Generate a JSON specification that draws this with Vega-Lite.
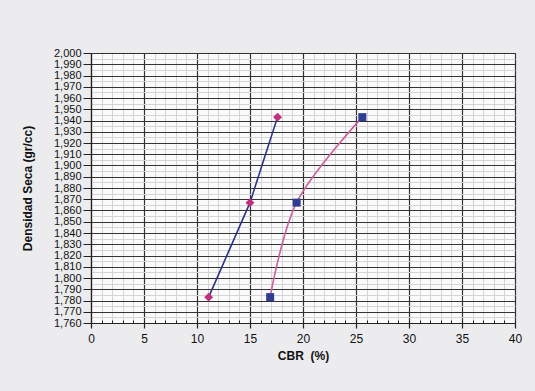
{
  "$schema": "https://vega.github.io/schema/vega-lite/v6.json",
  "autosize": {"type": "none"},
  "width": 424,
  "height": 270,
  "padding": {"left": 91, "top": 53, "right": 20, "bottom": 68},
  "background": "#ececef",
  "config": {
    "font": "Liberation Sans",
    "view": {"fill": "#fafafa", "stroke": "#222222", "strokeWidth": 1}
  },
  "data": {
    "values": [
      {"serie": "A", "cbr": 11.1, "densidad": 1783},
      {"serie": "A", "cbr": 15.0, "densidad": 1867},
      {"serie": "A", "cbr": 17.6, "densidad": 1943},
      {"serie": "B", "cbr": 16.9, "densidad": 1783},
      {"serie": "B", "cbr": 19.4, "densidad": 1867},
      {"serie": "B", "cbr": 25.6, "densidad": 1943}
    ]
  },
  "resolve": {"axis": {"x": "independent", "y": "independent"}},
  "layer": [
    {
      "description": "minor grid and minor ticks",
      "mark": {"type": "point", "opacity": 0},
      "encoding": {
        "x": {
          "field": "cbr", "type": "quantitative",
          "scale": {"domain": [0, 40], "nice": false, "zero": false},
          "axis": {
            "orient": "bottom", "title": null, "labels": false, "domain": false,
            "values": [0,1,2,3,4,5,6,7,8,9,10,11,12,13,14,15,16,17,18,19,20,21,22,23,24,25,26,27,28,29,30,31,32,33,34,35,36,37,38,39,40],
            "grid": true, "gridColor": "#d4d4d4", "gridWidth": 1,
            "ticks": true, "tickSize": -3, "tickColor": "#222222", "tickWidth": 1
          }
        },
        "y": {
          "field": "densidad", "type": "quantitative",
          "scale": {"domain": [1760, 2000], "nice": false, "zero": false},
          "axis": {
            "orient": "left", "title": null, "labels": false, "domain": false, "ticks": false,
            "values": [1765,1775,1785,1795,1805,1815,1825,1835,1845,1855,1865,1875,1885,1895,1905,1915,1925,1935,1945,1955,1965,1975,1985,1995],
            "grid": true, "gridColor": "#d4d4d4", "gridWidth": 1
          }
        }
      }
    },
    {
      "encoding": {
        "x": {
          "field": "cbr", "type": "quantitative",
          "scale": {"domain": [0, 40], "nice": false, "zero": false},
          "axis": {
            "orient": "bottom", "title": "CBR \u00a0(%)",
            "values": [0,5,10,15,20,25,30,35,40],
            "grid": true, "gridColor": "#333333", "gridWidth": 1.2,
            "domainColor": "#222222", "domainWidth": 1.2,
            "tickColor": "#222222", "tickSize": 5, "tickWidth": 1.2,
            "labelFontSize": 12, "labelColor": "#111111", "labelPadding": 5,
            "labelFlush": false,
            "titleFontSize": 12, "titleFontWeight": "bold", "titleColor": "#111111", "titlePadding": 6
          }
        },
        "y": {
          "field": "densidad", "type": "quantitative",
          "scale": {"domain": [1760, 2000], "nice": false, "zero": false},
          "axis": {
            "orient": "left", "title": "Densidad Seca (gr/cc)", "format": ",d",
            "values": [1760,1770,1780,1790,1800,1810,1820,1830,1840,1850,1860,1870,1880,1890,1900,1910,1920,1930,1940,1950,1960,1970,1980,1990,2000],
            "grid": true, "gridColor": "#333333", "gridWidth": 1.2,
            "domainColor": "#222222", "domainWidth": 1.2,
            "tickColor": "#222222", "tickSize": 8, "tickWidth": 1,
            "labelFontSize": 11, "labelColor": "#111111", "labelPadding": 2,
            "labelOverlap": false, "labelFlush": false, "labelBound": false,
            "titleFontSize": 12, "titleFontWeight": "bold", "titleColor": "#111111", "titlePadding": 19
          }
        }
      },
      "layer": [
        {
          "transform": [{"filter": "datum.serie === 'A'"}],
          "mark": {"type": "line", "color": "#2e3288", "strokeWidth": 1.6}
        },
        {
          "transform": [{"filter": "datum.serie === 'B'"}],
          "mark": {"type": "line", "color": "#cc5f9c", "strokeWidth": 1.6, "interpolate": "catmull-rom"}
        },
        {
          "transform": [{"filter": "datum.serie === 'A'"}],
          "mark": {"type": "point", "shape": "diamond", "filled": true, "size": 80, "color": "#c1307e", "opacity": 1}
        },
        {
          "transform": [{"filter": "datum.serie === 'B'"}],
          "mark": {"type": "point", "shape": "square", "filled": true, "size": 64, "color": "#2f3c94", "opacity": 1}
        }
      ]
    }
  ]
}
